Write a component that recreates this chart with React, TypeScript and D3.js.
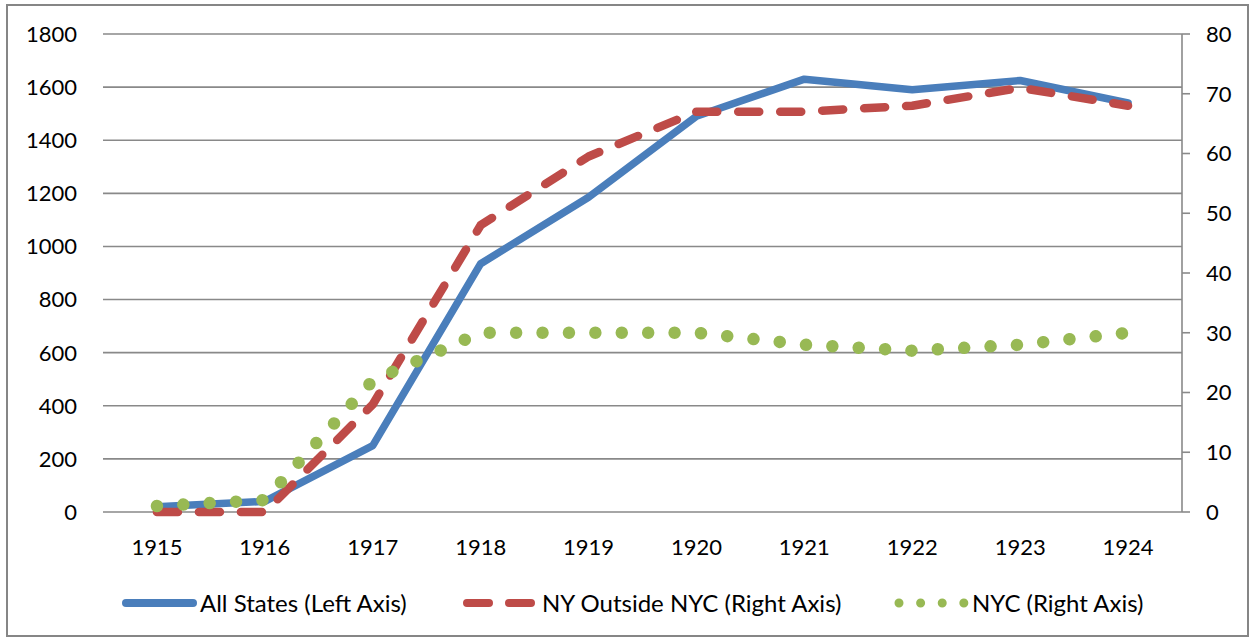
import React from 'react';
import * as d3 from 'd3';

const years = ['1915', '1916', '1917', '1918', '1919', '1920', '1921', '1922', '1923', '1924'];
const allStates = [20, 40, 250, 935, 1185, 1490, 1630, 1590, 1625, 1540];
const nyOutsideNYC = [0, 0, 18, 48, 59.5, 67, 67, 68, 71, 68];
const nyc = [1, 2, 22, 30, 30, 30, 28, 27, 28, 30];
const leftTicks = [0, 200, 400, 600, 800, 1000, 1200, 1400, 1600, 1800];
const rightTicks = [0, 10, 20, 30, 40, 50, 60, 70, 80];
const seriesNames = ['All States (Left Axis)', 'NY Outside NYC (Right Axis)', 'NYC (Right Axis)'];

const W = 1250;
const H = 639;
const M = { left: 103, right: 1182, top: 34, bottom: 512 };
const BLUE = '#4a7ebb';
const RED = '#be4b48';
const GREEN = '#98b954';
const GRID = '#898989';
const FONT = 'Lato, "Open Sans", sans-serif';

export default function App() {
  const x = d3.scalePoint<string>().domain(years).range([M.left, M.right]).padding(0.5);
  const yL = d3.scaleLinear().domain([0, 1800]).range([M.bottom, M.top]);
  const yR = d3.scaleLinear().domain([0, 80]).range([M.bottom, M.top]);

  const lineL = d3.line<number>().x((_, i) => x(years[i]) as number).y((d) => yL(d));
  const lineR = d3.line<number>().x((_, i) => x(years[i]) as number).y((d) => yR(d));

  const legendY = 603;

  return (
    <div>
      <style>{`body{margin:0}`}</style>
      <svg width={W} height={H} style={{ display: 'block', fontFamily: FONT }}>
        <rect x={0} y={0} width={W} height={H} fill="#fff" />
        <rect x={7} y={5} width={1241} height={631} fill="none" stroke="#868686" strokeWidth={2} />
        {leftTicks.map((t) => (
          <line key={'g' + t} x1={M.left} x2={M.right} y1={yL(t)} y2={yL(t)} stroke={GRID} strokeWidth={1.6} />
        ))}
        {/* right axis */}
        <line x1={M.right} x2={M.right} y1={M.top} y2={M.bottom} stroke={GRID} strokeWidth={1.6} />
        {rightTicks.map((t) => (
          <line key={'rt' + t} x1={M.right} x2={M.right + 8} y1={yR(t)} y2={yR(t)} stroke={GRID} strokeWidth={1.6} />
        ))}
        {leftTicks.map((t) => (
          <text key={'lt' + t} x={77} y={yL(t)} dy="0.36em" textAnchor="end" fontSize={22} fill="#000">
            {t}
          </text>
        ))}
        {rightTicks.map((t) => (
          <text key={'rl' + t} x={1206} y={yR(t)} dy="0.36em" textAnchor="start" fontSize={22} fill="#000">
            {t}
          </text>
        ))}
        {years.map((yr) => (
          <text key={'x' + yr} x={x(yr)} y={547} dy="0.36em" textAnchor="middle" fontSize={22} fill="#000">
            {yr}
          </text>
        ))}
        <path d={lineL(allStates) || ''} fill="none" stroke={BLUE} strokeWidth={7.5} strokeLinejoin="round" strokeLinecap="round" />
        <path d={lineR(nyOutsideNYC) || ''} fill="none" stroke={RED} strokeWidth={8.5} strokeDasharray="21 21" strokeLinejoin="round" strokeLinecap="round" />
        <path d={lineR(nyc) || ''} fill="none" stroke={GREEN} strokeWidth={12.5} strokeDasharray="0.01 26.4" strokeLinejoin="round" strokeLinecap="round" />

        {/* legend */}
        <line x1={126} x2={193} y1={legendY} y2={legendY} stroke={BLUE} strokeWidth={8} strokeLinecap="round" />
        <text x={200} y={legendY} dy="0.36em" fontSize={24} fill="#000">{seriesNames[0]}</text>
        <line x1={467} x2={532} y1={legendY} y2={legendY} stroke={RED} strokeWidth={8} strokeDasharray="22 20" strokeLinecap="round" />
        <text x={542} y={legendY} dy="0.36em" fontSize={24} fill="#000">{seriesNames[1]}</text>
        <line x1={899} x2={964} y1={legendY} y2={legendY} stroke={GREEN} strokeWidth={9} strokeDasharray="0.01 21.6" strokeLinecap="round" />
        <text x={972} y={legendY} dy="0.36em" fontSize={24} fill="#000">{seriesNames[2]}</text>
      </svg>
    </div>
  );
}
